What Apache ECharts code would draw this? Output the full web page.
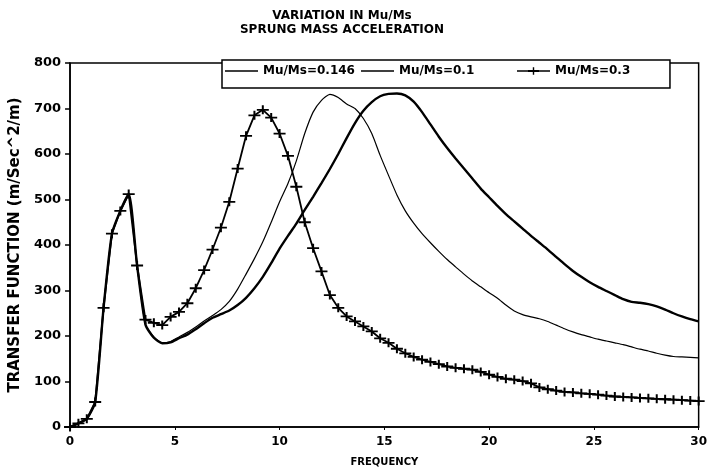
<!DOCTYPE html>
<html>
  <head>
    <meta charset="utf-8">
    <script src="https://cdn.jsdelivr.net/npm/echarts@6/dist/echarts.min.js"></script>
    <style>
      html, body { margin: 0; padding: 0; background: #fff; }
      #chart { width: 710px; height: 473px; }
    </style>
  </head>
  <body>
    <div id="chart"></div>
    <script>
      // frequency points (Hz)
      const freq = [0, 0.4, 0.8, 1.2, 1.6, 2.0, 2.4, 2.8, 3.2, 3.6, 4.0, 4.4, 4.8, 5.2, 5.6, 6.0, 6.4, 6.8, 7.2, 7.6,
        8.0, 8.4, 8.8, 9.2, 9.6, 10.0, 10.4, 10.8, 11.2, 11.6, 12.0, 12.4, 12.8, 13.2, 13.6, 14.0, 14.4, 14.8, 15.2, 15.6,
        16.0, 16.4, 16.8, 17.2, 17.6, 18.0, 18.4, 18.8, 19.2, 19.6, 20.0, 20.4, 20.8, 21.2, 21.6, 22.0, 22.4, 22.8, 23.2, 23.6,
        24.0, 24.4, 24.8, 25.2, 25.6, 26.0, 26.4, 26.8, 27.2, 27.6, 28.0, 28.4, 28.8, 29.2, 29.6, 30.0];

      // Mu/Ms = 0.146 (thin line)
      const ratio0146 = [0, 8, 18, 55, 262, 425, 475, 512, 355, 225, 198, 185, 188, 198, 208, 220, 233, 245, 258, 276,
        303, 336, 370, 407, 450, 495, 535, 585, 645, 692, 718, 731, 724, 710, 700, 678, 645, 597, 553, 510,
        475, 448, 425, 405, 386, 368, 352, 336, 321, 308, 295, 283, 268, 255, 247, 242, 238, 232, 224, 216,
        209, 203, 198, 193, 189, 185, 181, 176, 171, 167, 162, 158, 155, 154, 153, 152];

      // Mu/Ms = 0.1 (thick line)
      const ratio01 = [0, 8, 18, 55, 262, 425, 475, 512, 355, 225, 196, 184, 186, 195, 203, 215, 228, 240, 248, 256,
        268, 284, 305, 330, 360, 392, 420, 447, 477, 506, 536, 567, 600, 635, 668, 695, 714, 727, 732, 733,
        729, 715, 692, 665, 638, 613, 590, 568, 546, 524, 505, 486, 468, 452, 436, 420, 405, 390, 374, 358,
        343, 330, 318, 308, 299, 290, 281, 275, 273, 270, 265, 258, 250, 243, 237, 232];

      // Mu/Ms = 0.3 (line with + markers)
      const ratio03 = [0, 8, 18, 55, 262, 425, 475, 512, 355, 236, 229, 224, 242, 253, 272, 305, 345, 390, 438, 495,
        568, 640, 685, 697, 680, 645, 596, 528, 450, 393, 342, 290, 262, 243, 232, 221, 210, 195, 185, 172,
        162, 154, 148, 143, 138, 133, 130, 128, 126, 121, 115, 110, 106, 104, 101, 96, 87, 83, 80, 77,
        76, 74, 73, 71, 69, 67, 66, 65, 64, 63, 62, 61, 60, 59, 58, 57];

      const names = ['Mu/Ms=0.146', 'Mu/Ms=0.1', 'Mu/Ms=0.3'];
      const pairs = ys => freq.map((f, i) => [f, ys[i]]);

      const font = 'DejaVu Sans';
      const plus = 'path://M0,4 L5,4 L5,0 L7,0 L7,4 L12,4 L12,6 L7,6 L7,10 L5,10 L5,6 L0,6 Z';
      // legend icons drawn on a 33x9 box (tiny corner dots keep the box size)
      const corners = 'M0,0 L0.01,0 L0,0.01 Z M33,9 L32.99,9 L33,8.99 Z ';
      const lineIcon = 'path://' + corners + 'M0,3.8 L33,3.8 L33,5.2 L0,5.2 Z';
      const plusIcon = 'path://' + corners + 'M0,3.8 L11,3.8 L11,3.5 L15.8,3.5 L15.8,0.8 L17.2,0.8 L17.2,3.5 L22,3.5 L22,3.8 L33,3.8 ' +
        'L33,5.2 L22,5.2 L22,5.5 L17.2,5.5 L17.2,8.2 L15.8,8.2 L15.8,5.5 L11,5.5 L11,5.2 L0,5.2 Z';

      const legendText = { fontFamily: font, fontSize: 12, fontWeight: 'bold', color: '#000' };
      const legendBase = { top: 65, padding: 0, itemWidth: 33, itemHeight: 9, textStyle: legendText, z: 5 };

      const chart = echarts.init(document.getElementById('chart'), null, { renderer: 'canvas' });
      chart.setOption({
        backgroundColor: '#fff',
        animation: false,
        title: {
          text: 'VARIATION IN Mu/Ms\nSPRUNG MASS ACCELERATION',
          left: 337,
          textAlign: 'center',
          top: 4,
          textStyle: { fontFamily: font, fontSize: 12, fontWeight: 'bold', color: '#000', lineHeight: 14 }
        },
        legend: [
          Object.assign({}, legendBase, {
            data: [{ name: names[0], icon: lineIcon }],
            left: 222, top: 60,
            padding: [5, 315, 11, 3],
            backgroundColor: '#fff',
            borderColor: '#000',
            borderWidth: 1.5,
            z: 4
          }),
          Object.assign({}, legendBase, { data: [{ name: names[1], icon: lineIcon }], left: 361 }),
          Object.assign({}, legendBase, { data: [{ name: names[2], icon: plusIcon }], left: 517 })
        ],
        grid: {
          left: 68, right: 7, top: 63, bottom: 46,
          show: true, borderColor: '#000', borderWidth: 1.5
        },
        xAxis: {
          type: 'value',
          min: 0, max: 30, interval: 5,
          name: 'FREQUENCY',
          nameLocation: 'middle',
          nameGap: 30,
          nameTextStyle: { fontFamily: font, fontSize: 10, fontWeight: 'bold', color: '#000' },
          axisLine: { lineStyle: { color: '#000', width: 1.5 } },
          axisTick: { inside: false, length: 3, lineStyle: { color: '#000' } },
          axisLabel: { fontFamily: font, fontSize: 12, fontWeight: 'bold', color: '#000', margin: 9 },
          splitLine: { show: false }
        },
        yAxis: {
          type: 'value',
          min: 0, max: 800, interval: 100,
          name: 'TRANSFER FUNCTION (m/Sec^2/m)',
          nameLocation: 'middle',
          nameGap: 40,
          nameTextStyle: { fontFamily: font, fontSize: 15, fontWeight: 'bold', color: '#000' },
          axisLine: { lineStyle: { color: '#000', width: 1.5 } },
          axisTick: { length: 5, lineStyle: { color: '#000', width: 1.5 } },
          axisLabel: { fontFamily: font, fontSize: 13, fontWeight: 'bold', color: '#000', margin: 9 },
          splitLine: { show: false }
        },
        series: [{
          name: names[0],
          type: 'line',
          data: pairs(ratio0146),
          symbol: 'none',
          smooth: 0.2,
          lineStyle: { color: '#000', width: 1.2 },
          itemStyle: { color: '#000' }
        }, {
          name: names[1],
          type: 'line',
          data: pairs(ratio01),
          symbol: 'none',
          smooth: 0.2,
          lineStyle: { color: '#000', width: 2.4 },
          itemStyle: { color: '#000' }
        }, {
          name: names[2],
          type: 'line',
          data: pairs(ratio03),
          symbol: plus,
          symbolSize: [12, 9],
          showAllSymbol: true,
          lineStyle: { color: '#000', width: 1.8 },
          itemStyle: { color: '#000' }
        }]
      });
    </script>
  </body>
</html>
